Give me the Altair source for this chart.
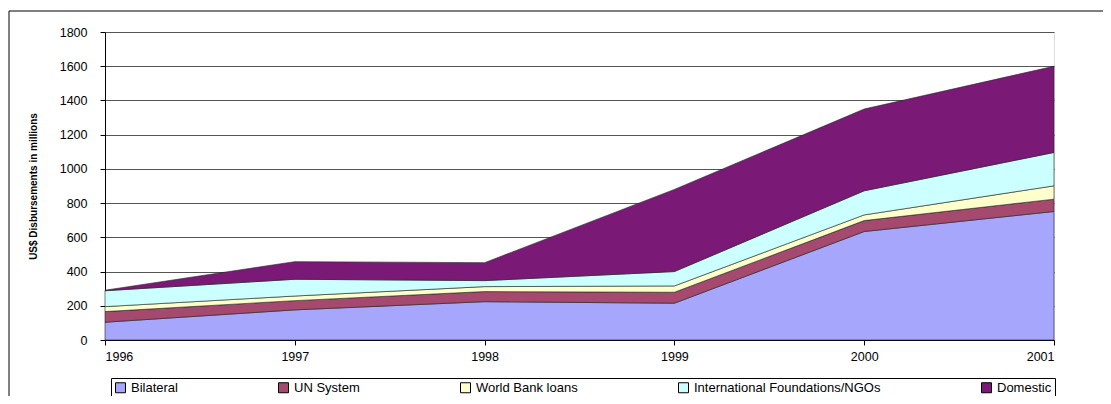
import altair as alt
import pandas as pd

years = [1996, 1997, 1998, 1999, 2000, 2001]
bilateral = [104, 176, 224, 215, 634, 751]
un_system = [62, 54, 59, 64, 64, 72]
world_bank = [29, 27, 29, 37, 33, 78]
intl_ngos = [93, 98, 35, 84, 141, 195]
domestic = [3, 103, 105, 480, 478, 504]

series = ["Bilateral", "UN System", "World Bank loans",
          "International Foundations/NGOs", "Domestic"]
colors = ["#A6A6FC", "#A5496F", "#FFFFCC", "#CCFFFF", "#7A1A76"]
y_ticks = [0, 200, 400, 600, 800, 1000, 1200, 1400, 1600, 1800]

values = [bilateral, un_system, world_bank, intl_ngos, domestic]
rows = []
for i, (s, v) in enumerate(zip(series, values)):
    for yr, val in zip(years, v):
        rows.append({"year": yr, "source": s, "value": val, "order": i})
df = pd.DataFrame(rows)

FONT = "Liberation Sans"

area = alt.Chart(df).mark_area(
    stroke="#222222", strokeWidth=0.6, opacity=1
).encode(
    x=alt.X("year:Q",
            scale=alt.Scale(domain=[1996, 2001], nice=False, zero=False),
            axis=alt.Axis(values=years, format="d", title=None, grid=False,
                          tickSize=5, labelPadding=5, domainColor="black",
                          tickColor="black", labelFontSize=12.5, labelFont=FONT,
                          labelColor="black")),
    y=alt.Y("value:Q", stack="zero",
            scale=alt.Scale(domain=[0, 1800], nice=False),
            axis=alt.Axis(values=y_ticks, format="d",
                          title="US$ Disbursements in millions",
                          grid=True, gridColor="#555555", gridWidth=1,
                          tickSize=5, labelPadding=13, domainColor="black",
                          tickColor="black", labelFontSize=12.5, labelFont=FONT,
                          labelColor="black",
                          titleFont=FONT, titleFontWeight="bold",
                          titleFontSize=10, titleColor="black",
                          titleAngle=270, titleX=-72, titleY=154,
                          titleAlign="center", titleBaseline="middle")),
    color=alt.Color("source:N",
                    scale=alt.Scale(domain=series, range=colors),
                    legend=alt.Legend(title=None, orient="none", legendX=6, legendY=346,
                                      direction="horizontal", columns=5,
                                      symbolType="square", symbolSize=100,
                                      symbolStrokeColor="black", symbolStrokeWidth=1,
                                      symbolOpacity=1,
                                      labelFont=FONT, labelFontSize=13, labelColor="black",
                                      labelOffset=4, columnPadding=98,
                                      strokeColor="black", fillColor="white",
                                      padding=3, labelLimit=400)),
    order=alt.Order("order:Q", sort="ascending"),
)

frame = alt.Chart(pd.DataFrame({"f": [0]})).mark_rect(
    filled=False, stroke="black", strokeWidth=1
).encode(
    x=alt.value(-96), x2=alt.value(1100), y=alt.value(-21), y2=alt.value(420)
)

chart = alt.layer(frame, area).properties(
    width=949, height=308,
    autosize=alt.AutoSizeParams(type="none"),
    padding={"left": 97, "top": 24, "right": 49, "bottom": 56},
).configure_view(stroke="#888888", strokeWidth=1).configure(background="white")

chart.save("out.html", embed_options={"renderer": "svg", "actions": False})
